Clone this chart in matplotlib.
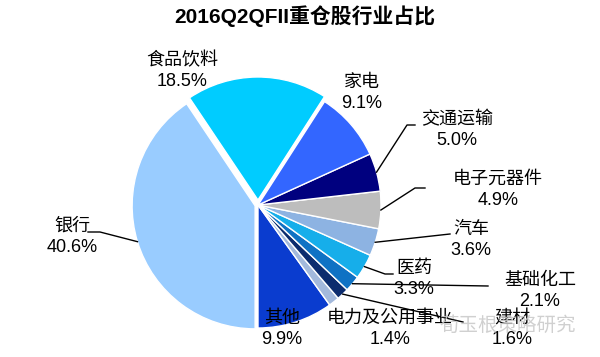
import matplotlib
matplotlib.use("Agg")
import matplotlib.pyplot as plt
import numpy as np

plt.rcParams["font.family"] = ["Liberation Sans", "Noto Sans CJK SC", "DejaVu Sans"]

# data (counterclockwise from 6 o'clock)
sectors = ["其他", "电力及公用事业", "建材", "基础化工", "医药", "汽车",
           "电子元器件", "交通运输", "家电", "食品饮料", "银行"]
shares = [9.9, 1.4, 1.6, 2.1, 3.3, 3.6, 4.9, 5.0, 9.1, 18.5, 40.6]
colors = ["#0A3CCF", "#A3B9DC", "#0C2C6E", "#0F72C4", "#16AEEA", "#8DB3E2",
          "#BDBDBD", "#00007F", "#3366FF", "#00CCFF", "#99CCFF"]
# pie explode is in data units here (axes are in pixels)
explode = [0, 0, 0, 0, 0, 0, 0, 0, 0, 5, 3]

W, H = 600, 357


def px(x, y):
    # pixel position (top-left origin) -> data coords
    return x, H - y


# label block centres in pixels
label_pos = {
    "其他": (282, 329), "电力及公用事业": (390, 329), "建材": (512, 329),
    "基础化工": (540, 291), "医药": (414, 279), "汽车": (471, 240),
    "电子元器件": (498, 190), "交通运输": (457, 130), "家电": (362, 93),
    "食品饮料": (182, 71), "银行": (72, 237),
}
# leader line bends (pixels), start point comes from the wedge
leaders = {
    "银行": [(100, 232), (88, 232)],
    "交通运输": [(407, 125), (415, 125)],
    "电子元器件": [(415, 188), (425, 188)],
    "汽车": [(450, 234)],
    "医药": [(385, 274), (393, 274)],
    "基础化工": [(488, 286)],
    "建材": [(463, 322)],
}

fig = plt.figure(figsize=(W / 100, H / 100), dpi=100)
ax = fig.add_axes([0, 0, 1, 1])

cx, cy = px(258, 205)
R = 123
wedges, _ = ax.pie(shares, colors=colors, explode=explode, startangle=270,
                   counterclock=True, center=(cx, cy), radius=R,
                   wedgeprops=dict(edgecolor="white", linewidth=1.0))

for w, name in zip(wedges, sectors):
    if name in leaders:
        ang = np.deg2rad((w.theta1 + w.theta2) / 2)
        x0, y0 = w.center[0] + R * np.cos(ang), w.center[1] + R * np.sin(ang)
        pts = [(x0, y0)] + [px(*p) for p in leaders[name]]
        ax.plot([p[0] for p in pts], [p[1] for p in pts], color="black", lw=1.0,
                zorder=3)

for name, val in zip(sectors, shares):
    x, y = px(*label_pos[name])
    ax.text(x, y, f"{name}\n{val:.1f}%", ha="center", va="center",
            fontsize=13, linespacing=1.3, color="black", zorder=4)

ax.text(*px(305, 16), "2016Q2QFII重仓股行业占比", ha="center", va="center",
        fontsize=15, fontweight="bold", zorder=5)

# watermark
ax.text(*px(508, 326), "荀玉根策略研究", ha="center", va="center",
        fontsize=14, color="#C8C8C8", alpha=0.85, zorder=6)

ax.set_xlim(0, W)
ax.set_ylim(0, H)
ax.set_aspect("equal")
ax.axis("off")

fig.savefig("out.png", dpi=100)
